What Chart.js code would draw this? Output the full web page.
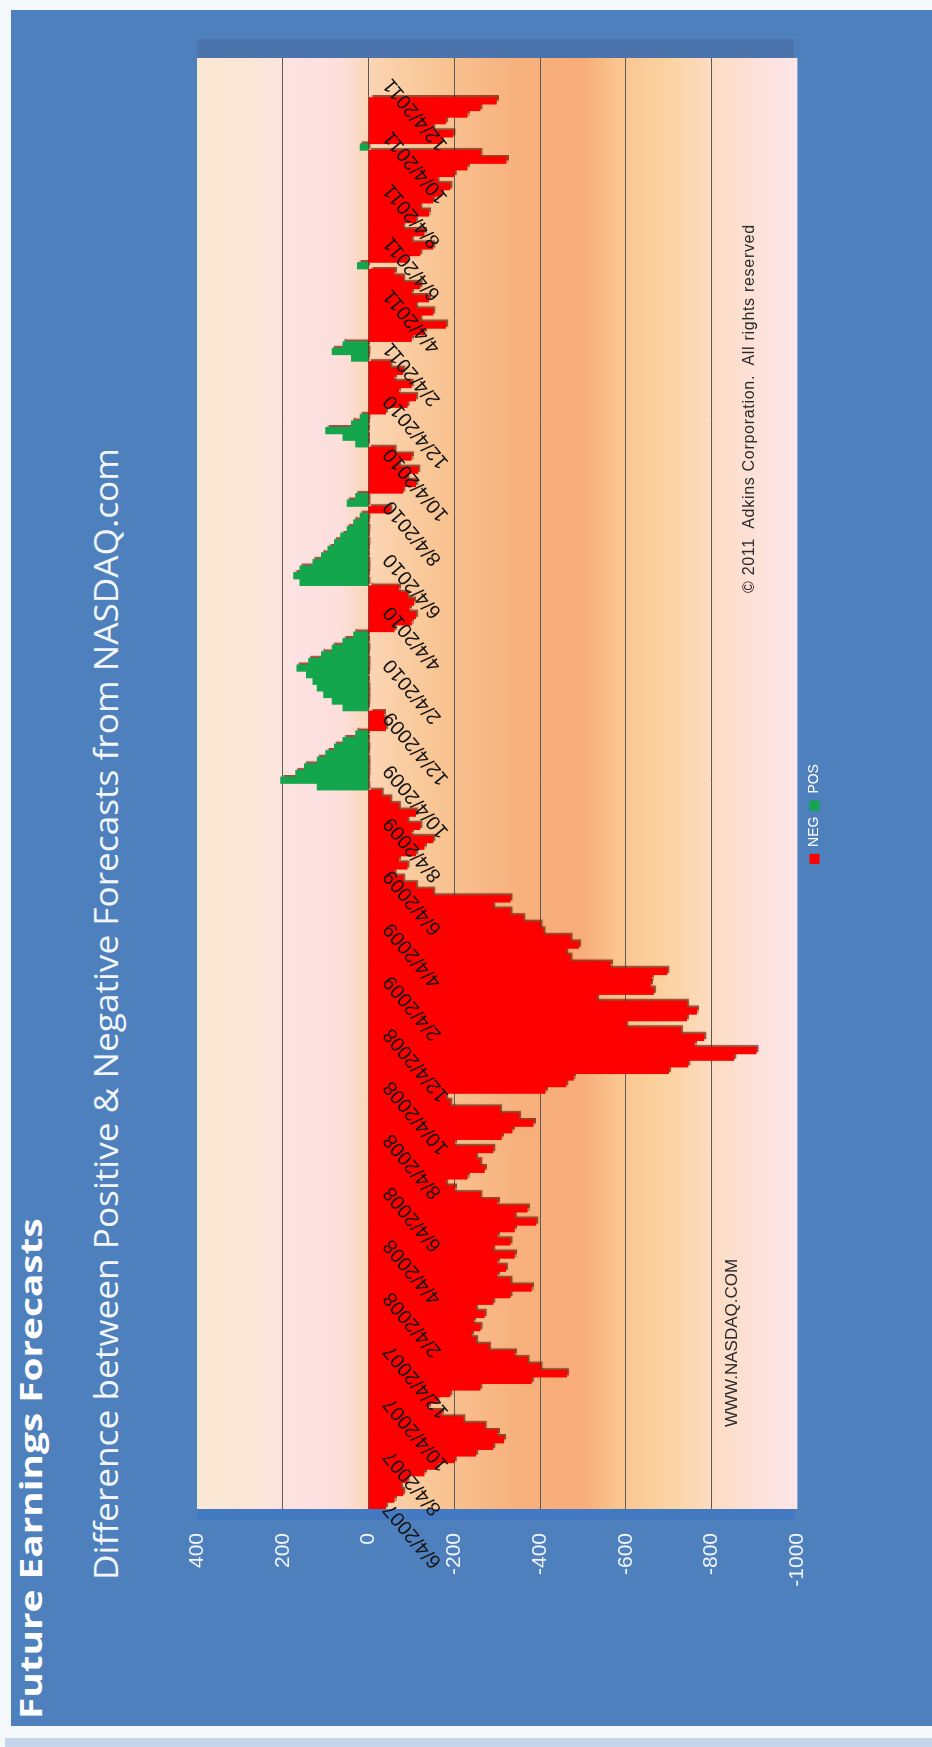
<!DOCTYPE html>
<html>
<head>
<meta charset="utf-8">
<title>Future Earnings Forecasts</title>
<script src="https://cdn.jsdelivr.net/npm/chart.js@4.4.1/dist/chart.umd.min.js"></script>
<style>
  html, body { margin: 0; padding: 0; }
  body { width: 932px; height: 1747px; overflow: hidden; background: #f6f9fc; position: relative; }
  /* the sheet is laid out landscape and turned a quarter to the left */
  #sheet {
    position: absolute; left: 0; top: 0;
    width: 1747px; height: 932px;
    transform-origin: 0 0;
    transform: translateY(1747px) rotate(-90deg);
    background: #f6f9fc;
  }
  #sheet > * { position: absolute; }
  .edge { left: 0; top: 5px; width: 9px; height: 927px; background: #c6d6ea; }
  .panel { left: 21px; top: 11px; width: 1716px; height: 921px; background: #4e80bd; }
  .depth-back { left: 1689px; top: 197px; width: 19px; height: 597px; background: #4a74ab; }
  .depth-floor { left: 227px; top: 197px; width: 11px; height: 597px; background: #4379c0; }
  .title {
    left: 28px; top: 15px; font: bold 31px "Open Sans", sans-serif; line-height: 1;
    color: #fff; white-space: nowrap; transform-origin: 0 50%; transform: scaleX(1.25);
  }
  .subtitle {
    left: 167px; top: 90px; font: 32px "Open Sans", sans-serif; line-height: 1;
    color: #f2f6fb; white-space: nowrap; transform-origin: 0 50%; transform: scaleX(1.1);
  }
  #chart { left: 117px; top: 150px; }
  .note { font-family: "Liberation Sans", Arial, sans-serif; line-height: 1; color: #2a2a2a; white-space: nowrap; }
  .www { left: 320px; top: 723px; font-size: 17px; }
  .copy { left: 1154px; top: 741px; font-size: 16px; letter-spacing: 0.7px; }
</style>
</head>
<body>
<div id="sheet">
  <div class="edge"></div>
  <div class="panel"></div>
  <div class="depth-back"></div>
  <div class="depth-floor"></div>
  <div class="title">Future Earnings Forecasts</div>
  <div class="subtitle">Difference between Positive &amp; Negative Forecasts from NASDAQ.com</div>
  <canvas id="chart" width="1630" height="684"></canvas>
  <div class="note www">WWW.NASDAQ.COM</div>
  <div class="note copy">&copy; 2011&nbsp; Adkins Corporation.&nbsp; All rights reserved</div>
</div>

<script>
// date ticks, one every two months
const tickLabels = [
  '6/4/2007', '8/4/2007', '10/4/2007', '12/4/2007',
  '2/4/2008', '4/4/2008', '6/4/2008', '8/4/2008', '10/4/2008', '12/4/2008',
  '2/4/2009', '4/4/2009', '6/4/2009', '8/4/2009', '10/4/2009', '12/4/2009',
  '2/4/2010', '4/4/2010', '6/4/2010', '8/4/2010', '10/4/2010', '12/4/2010',
  '2/4/2011', '4/4/2011', '6/4/2011', '8/4/2011', '10/4/2011', '12/4/2011'
];

// weekly positive minus negative forecast count, 8 readings per tick interval
const spread = [
  -40, -60, -80, -75, -90, -130, -160, -200,
  -250, -290, -315, -300, -270, -220, -170, -140,
  -160, -190, -260, -380, -462, -400, -370, -340,
  -280, -250, -240, -260, -245, -270, -250, -290,
  -330, -380, -330, -300, -320, -300, -340, -290,
  -330, -300, -340, -390, -340, -370, -300, -260,
  -200, -180, -230, -270, -260, -250, -290, -200,
  -310, -335, -384, -350, -306, -190, -180, -412,
  -460, -478, -700, -745, -852, -904, -760, -782,
  -728, -600, -742, -765, -742, -532, -665, -657,
  -660, -696, -564, -470, -460, -490, -470, -407,
  -400, -360, -330, -290, -330, -150, -110, -80,
  -60, -90, -70, -110, -130, -150, -100, -120,
  -90, -110, -70, -50, -30, 120, 205, 170,
  150, 120, 100, 80, 60, 30, -40, -38,
  -35, 60, 85, 105, 120, 130, 145, 167,
  140, 110, 85, 60, 35, -60, -100, -110,
  -95, -105, -90, -70, 160, 175, 160, 130,
  110, 95, 80, 65, 50, 35, 20, -50,
  50, 30, -80, -110, -90, -115, -70, -100,
  -60, 30, 60, 100, 40, 20, -40, -90,
  -110, -70, -100, -60, -80, -50, 40, 85,
  60, -100, -130, -180, -120, -150, -110, -140,
  -100, -120, -80, -60, 26, -90, -120, -150,
  -100, -130, -80, -110, -140, -120, -150, -170,
  -190, -160, -200, -230, -321, -260, 20, -170,
  -197, -150, -180, -230, -260, -298, null, null,
  null, null, null, null
];

const yTicks = [400, 200, 0, -200, -400, -600, -800, -1000];

const categories = tickLabels
  .flatMap(d => [d, '', '', '', '', '', '', ''])
  .slice(0, spread.length);
const negValues = spread.map(v => (v !== null && v < 0) ? v : null);
const posValues = spread.map(v => (v !== null && v >= 0) ? v : null);

// peach / pink backdrop behind the bars
const plotFill = {
  id: 'plotFill',
  beforeDraw(chart) {
    const { ctx, chartArea: a } = chart;
    const g = ctx.createLinearGradient(0, a.top, 0, a.bottom);
    [
      [0, '#fbe8d3'], [0.1, '#fce6d8'], [0.17, '#fde2e2'], [0.24, '#fddfdc'],
      [0.29, '#fbd5b3'], [0.38, '#f9c898'], [0.46, '#f8bb89'], [0.54, '#f7b07c'],
      [0.64, '#f8ac79'], [0.7, '#fac48e'], [0.78, '#fbd2a0'], [0.86, '#fcdcc3'],
      [0.94, '#fde2dc'], [1, '#fde5e8']
    ].forEach(([o, c]) => g.addColorStop(o, c));
    ctx.save();
    ctx.fillStyle = g;
    ctx.fillRect(a.left, a.top, a.width, a.height);
    ctx.restore();
  }
};

// dark edge along each column
const barShade = {
  id: 'barShade',
  beforeDatasetsDraw(chart) {
    const c = chart.ctx;
    c.save();
    c.shadowColor = 'rgba(110, 20, 0, 0.7)';
    c.shadowBlur = 1;
    c.shadowOffsetX = 2;
    c.shadowOffsetY = 2;
  },
  afterDatasetsDraw(chart) {
    chart.ctx.restore();
  }
};

// keep the legend under the middle of the sheet rather than the canvas
const legendNudge = {
  id: 'legendNudge',
  afterLayout(chart) {
    const lg = chart.legend;
    lg.left += 30;
    lg.right += 30;
    lg.top += 4;
    lg.bottom += 4;
  }
};

new Chart(document.getElementById('chart'), {
  type: 'bar',
  data: {
    labels: categories,
    datasets: [
      {
        label: 'NEG',
        data: negValues,
        backgroundColor: '#ff0000',
        borderWidth: 0,
        barPercentage: 1,
        categoryPercentage: 1
      },
      {
        label: 'POS',
        data: posValues,
        backgroundColor: '#13a64c',
        borderWidth: 0,
        barPercentage: 1,
        categoryPercentage: 1
      }
    ]
  },
  options: {
    responsive: false,
    animation: false,
    layout: { padding: { top: 47, right: 58, bottom: 5, left: 0 } },
    plugins: {
      title: { display: false },
      tooltip: { enabled: false },
      legend: {
        position: 'bottom',
        labels: {
          color: '#ffffff',
          boxWidth: 10,
          boxHeight: 10,
          padding: 6,
          font: { family: 'Liberation Sans', size: 14 }
        }
      }
    },
    scales: {
      x: {
        position: { y: 0 },
        stacked: true,
        grid: { display: false },
        border: { display: false },
        ticks: {
          z: 1,
          autoSkip: false,
          minRotation: 40,
          maxRotation: 40,
          padding: 2,
          color: '#141414',
          font: { family: 'Liberation Sans', size: 20 },
          callback: function (value) {
            const label = this.getLabelForValue(value);
            return label === '' ? null : label;
          }
        }
      },
      y: {
        stacked: true,
        min: -1000,
        max: 400,
        afterBuildTicks: scale => { scale.ticks = yTicks.map(v => ({ value: v })); },
        afterFit: scale => { scale.width = 121; },
        grid: {
          drawTicks: false,
          color: c => (c.tick.value === 400 || c.tick.value === -1000) ? 'rgba(0,0,0,0)' : '#5a5a5a',
          lineWidth: 1
        },
        border: { display: false },
        ticks: {
          padding: 24,
          color: '#f2f6fc',
          font: { family: 'Liberation Sans', size: 21 },
          callback: v => String(v)
        }
      }
    }
  },
  plugins: [plotFill, barShade, legendNudge]
});
</script>
</body>
</html>
